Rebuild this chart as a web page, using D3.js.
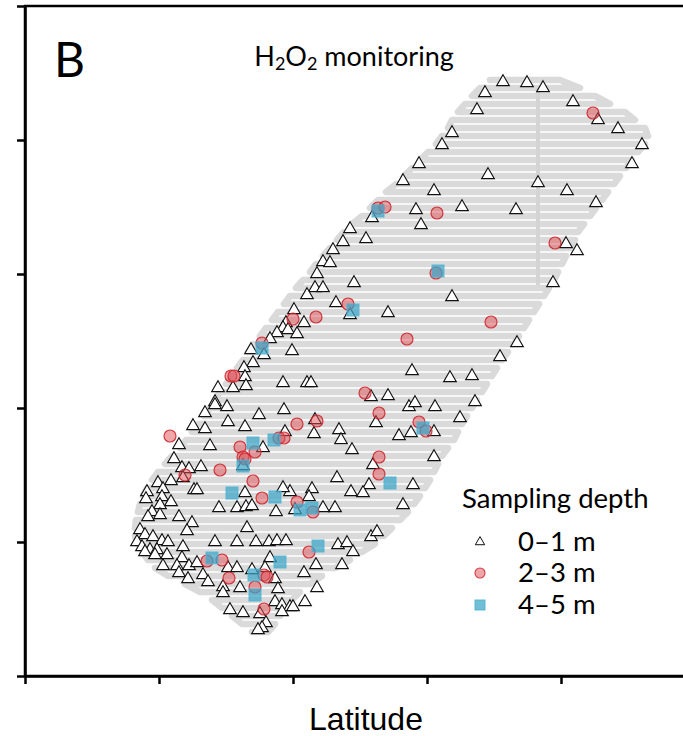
<!DOCTYPE html>
<html>
<head>
<meta charset="utf-8">
<script src="https://cdn.jsdelivr.net/npm/d3@7"></script>
<style>
  body { margin: 0; background: #fff; }
  svg { display: block; }
</style>
</head>
<body>
<div id="chart"></div>
<script>
// survey positions, in metres east / north of the lower-left corner
const xTicks = [0, 134, 268, 402, 536, 670];
const yTicks = [0, 134, 268, 402, 536, 670];

// boat track: one row per pass [north, west end, east end]
const trackRows = [
  [596, 465, 535], [588, 455, 555], [580, 447, 570], [572, 440, 585], [564, 433, 600],
  [556, 427, 610], [548, 423, 620], [540, 417, 623], [532, 411, 620], [524, 403, 613],
  [516, 395, 607], [508, 387, 601], [500, 379, 595], [492, 371, 589], [484, 361, 583],
  [476, 353, 577], [468, 345, 571], [460, 337, 565], [452, 327, 559], [444, 319, 553],
  [436, 312, 550], [428, 305, 545], [420, 298, 541], [412, 291, 537], [404, 285, 533],
  [396, 278, 529], [388, 271, 524], [380, 265, 519], [372, 259, 514], [364, 253, 509],
  [356, 247, 504], [348, 241, 499], [340, 235, 494], [332, 229, 489], [324, 223, 483],
  [316, 218, 477], [308, 212, 472], [300, 207, 467], [292, 201, 462], [284, 195, 457],
  [276, 190, 452], [268, 185, 447], [260, 179, 442], [252, 173, 437], [244, 167, 433],
  [236, 161, 429], [228, 155, 423], [220, 147, 417], [212, 140, 413], [204, 133, 409],
  [196, 127, 405], [188, 122, 400], [180, 118, 395], [172, 115, 389], [164, 113, 383],
  [156, 111, 375], [148, 110, 367], [140, 110, 359], [132, 112, 350], [124, 117, 337],
  [116, 123, 325], [108, 130, 310], [100, 143, 297], [92, 160, 285], [84, 175, 275],
  [76, 187, 267], [68, 197, 260], [60, 207, 255], [52, 217, 250], [44, 227, 243]
];
// north-south transect across the top
const transect = [[513, 588], [513, 391]];

// sampling points 0-1 m
const depth01 = [
  [478,594],[502,593],[518,588],[460,583],[548,574],[452,566],[573,556],[593,547],[427,543],[617,531],
  [417,531],[607,512],[463,501],[513,493],[542,485],[571,473],[437,469],[491,466],[394,512],[378,495],
  [409,485],[391,466],[396,451],[347,458],[325,447],[341,437],[318,434],[308,426],[298,414],[305,413],
  [292,402],[329,393],[290,388],[298,388],[541,432],[552,425],[528,393],[282,381],[311,373],[325,361],
  [363,363],[269,366],[279,353],[261,353],[258,348],[263,346],[252,343],[272,342],[245,337],[226,326],
  [239,321],[267,325],[228,313],[219,308],[220,299],[193,288],[208,288],[221,290],[258,293],[282,293],
  [286,293],[190,274],[190,271],[202,269],[180,263],[259,266],[234,261],[203,254],[220,249],[290,256],
  [180,247],[314,246],[346,279],[363,280],[351,253],[260,244],[289,242],[316,236],[185,230],[238,228],
  [327,226],[168,250],[154,231],[149,217],[157,208],[164,207],[176,209],[218,210],[427,379],[492,333],
  [475,319],[387,305],[425,298],[447,300],[384,269],[390,273],[410,269],[450,274],[435,258],[374,240],
  [386,243],[409,244],[409,219],[348,211],[312,198],[344,191],[388,191],[287,187],[284,179],[326,184],
  [338,183],[378,171],[298,168],[310,168],[270,166],[265,184],[346,139],[352,144],[313,131],[322,133],
  [328,124],[291,111],[317,111],[279,103],[292,88],[158,198],[133,193],[146,195],[122,184],[138,187],
  [169,186],[172,186],[220,183],[258,188],[137,179],[121,177],[146,174],[135,171],[194,168],[212,168],
  [221,169],[227,170],[251,164],[127,164],[123,159],[135,161],[154,159],[167,153],[162,145],[222,148],
  [115,146],[120,141],[128,139],[137,135],[143,134],[112,134],[117,129],[125,126],[132,126],[190,134],
  [212,134],[231,134],[244,134],[252,135],[261,135],[158,129],[120,124],[130,121],[142,121],[157,118],
  [245,118],[138,110],[152,110],[164,110],[172,113],[203,108],[212,108],[227,106],[240,108],[154,103],
  [178,101],[183,94],[163,97],[250,97],[198,89],[215,88],[198,83],[253,87],[250,74],[257,71],
  [265,69],[268,69],[280,74],[205,66],[218,63],[257,64],[235,62],[241,53],[237,48],[233,46]
];
// sampling points 2-3 m
const depth23 = [
  [568,563],[353,468],[360,469],[412,463],[411,403],[530,433],[323,372],[268,357],[291,359],[237,333],
  [206,300],[209,300],[340,283],[354,263],[272,252],[292,255],[254,238],[259,238],[215,229],[230,224],
  [218,219],[220,217],[354,219],[145,240],[195,206],[394,254],[401,245],[354,202],[272,174],[288,164],
  [284,124],[160,201],[228,195],[237,178],[197,116],[182,115],[204,98],[239,101],[242,99],[230,89],
  [239,67],[466,354],[382,337]
];
// sampling points 4-5 m
const depth45 = [
  [353,465],[413,405],[328,366],[237,328],[228,233],[249,236],[218,210],[398,248],[365,193],[275,166],
  [287,168],[293,130],[207,183],[250,179],[187,118],[229,101],[230,81],[255,114]
];

const legendLabels = ["0\u20131 m", "2\u20133 m", "4\u20135 m"];

const W = 683, H = 736;
const svg = d3.select("#chart").append("svg").attr("width", W).attr("height", H);

const x = d3.scaleLinear().domain([0, 670]).range([25, 695]);
const y = d3.scaleLinear().domain([0, 670]).range([676, 6]);

const humanist = "Lato, 'Open Sans', sans-serif";

// track
const trackPts = [];
trackRows.forEach((r, i) => {
  if (i % 2 === 0) { trackPts.push([r[1], r[0]], [r[2], r[0]]); }
  else { trackPts.push([r[2], r[0]], [r[1], r[0]]); }
});
const line = d3.line().x(d => x(d[0])).y(d => y(d[1]));
svg.append("path").attr("d", line(trackPts))
  .attr("fill", "none").attr("stroke", "#dadada").attr("stroke-width", 6.6)
  .attr("stroke-linejoin", "round").attr("stroke-linecap", "round");
svg.append("path").attr("d", line(transect))
  .attr("fill", "none").attr("stroke", "#d4d4d4").attr("stroke-width", 4);

// markers
const tri = d3.symbol().type(d3.symbolTriangle).size(70);
svg.append("g").selectAll("path").data(depth01).join("path")
  .attr("d", tri)
  .attr("transform", d => `translate(${x(d[0])},${y(d[1])})`)
  .attr("fill", "#fff").attr("stroke", "#111").attr("stroke-width", 1.1);

svg.append("g").selectAll("circle").data(depth23).join("circle")
  .attr("cx", d => x(d[0])).attr("cy", d => y(d[1])).attr("r", 6)
  .attr("fill", "rgba(226,80,86,0.5)").attr("stroke", "rgba(205,30,40,0.85)").attr("stroke-width", 1.2);

svg.append("g").selectAll("rect").data(depth45).join("rect")
  .attr("x", d => x(d[0]) - 6).attr("y", d => y(d[1]) - 6)
  .attr("width", 12).attr("height", 12)
  .attr("fill", "rgba(60,165,200,0.72)").attr("stroke", "rgba(80,180,210,0.9)").attr("stroke-width", 1);

// frame and axes
svg.append("rect")
  .attr("x", x(0)).attr("y", y(670)).attr("width", x(670) - x(0)).attr("height", y(0) - y(670))
  .attr("fill", "none").attr("stroke", "#000").attr("stroke-width", 2.5);

const xAxis = svg.append("g").attr("transform", `translate(0,${y(0)})`)
  .call(d3.axisBottom(x).tickValues(xTicks).tickSize(8).tickSizeOuter(0).tickFormat(""));
const yAxis = svg.append("g").attr("transform", `translate(${x(0)},0)`)
  .call(d3.axisLeft(y).tickValues(yTicks).tickSize(8).tickSizeOuter(0).tickFormat(""));
[xAxis, yAxis].forEach(g => {
  g.selectAll("path, line").attr("stroke", "#000").attr("stroke-width", 2.5);
});

// texts
svg.append("text").attr("x", 54).attr("y", 77)
  .attr("font-family", humanist).attr("font-size", 48).text("B");

const title = svg.append("text").attr("x", 354).attr("y", 66).attr("text-anchor", "middle")
  .attr("font-family", humanist).attr("font-size", 27);
title.append("tspan").text("H");
title.append("tspan").attr("font-size", 18).attr("dy", 4).text("2");
title.append("tspan").attr("dy", -4).text("O");
title.append("tspan").attr("font-size", 18).attr("dy", 4).text("2");
title.append("tspan").attr("dy", -4).text(" monitoring");

svg.append("text").attr("x", 366).attr("y", 730).attr("text-anchor", "middle")
  .attr("font-family", "'Liberation Sans', Arial, sans-serif").attr("font-size", 32)
  .text("Latitude");

// legend
const lg = svg.append("g").attr("font-family", humanist).attr("font-size", 27.5);
lg.append("text").attr("x", 462).attr("y", 508).text("Sampling depth");
const rowY = [542, 573, 605];
lg.selectAll("text.lab").data(legendLabels).join("text").attr("class", "lab")
  .attr("x", 518).attr("y", (d, i) => rowY[i] + 9).text(d => d);
lg.append("path").attr("d", d3.symbol().type(d3.symbolTriangle).size(38))
  .attr("transform", `translate(480,${rowY[0]})`)
  .attr("fill", "#fff").attr("stroke", "#111").attr("stroke-width", 1);
lg.append("circle").attr("cx", 480).attr("cy", rowY[1]).attr("r", 5)
  .attr("fill", "rgba(226,80,86,0.5)").attr("stroke", "rgba(205,30,40,0.85)").attr("stroke-width", 1.1);
lg.append("rect").attr("x", 475).attr("y", rowY[2] - 5).attr("width", 10).attr("height", 10)
  .attr("fill", "rgba(60,165,200,0.72)").attr("stroke", "rgba(80,180,210,0.9)");
</script>
</body>
</html>
